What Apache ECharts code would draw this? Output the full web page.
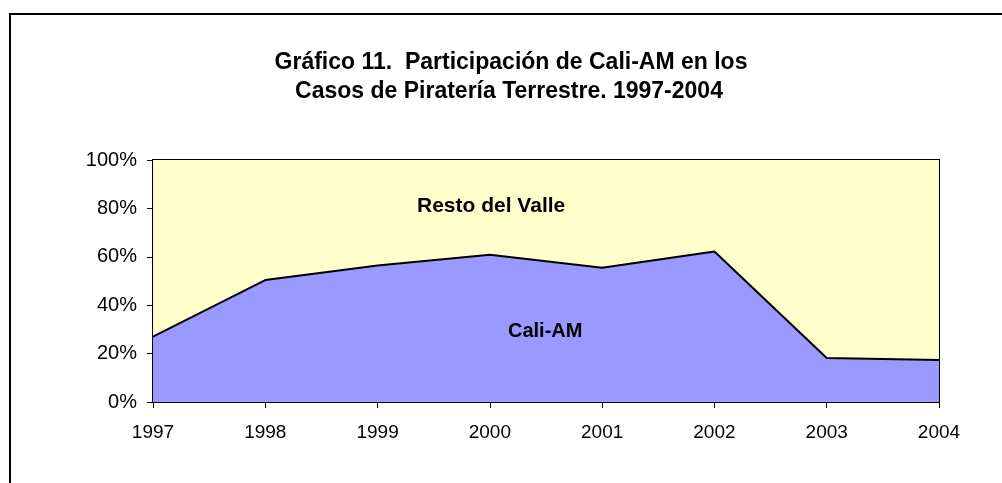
<!DOCTYPE html>
<html>
<head>
<meta charset="utf-8">
<script src="https://cdn.jsdelivr.net/npm/echarts@6/dist/echarts.min.js"></script>
<style>
  html, body { margin: 0; padding: 0; background: #fff; }
  #chart { width: 1002px; height: 483px; }
</style>
</head>
<body>
<div id="chart"></div>
<script>
// years on the x axis
const years = ['1997', '1998', '1999', '2000', '2001', '2002', '2003', '2004'];
// share of Cali-AM (%)
const caliAM = [27, 50.4, 56.4, 60.8, 55.5, 62.2, 18.2, 17.4];
// share of the rest of the valle (%)
const restoValle = [73, 49.6, 43.6, 39.2, 44.5, 37.8, 81.8, 82.6];

const titleLines = ['Gráfico 11.  Participación de Cali-AM en los', 'Casos de Piratería Terrestre. 1997-2004'];
const font = 'Arial, "Liberation Sans", sans-serif';

const chart = echarts.init(document.getElementById('chart'));

const titleStyle = {
    fontFamily: font,
    fontWeight: 'bold',
    fontSize: 23,
    color: '#000'
};

const option = {
    animation: false,
    backgroundColor: '#fff',
    title: [
        { text: titleLines[0], left: 511, top: 51, textAlign: 'center', padding: 0, textStyle: titleStyle },
        { text: titleLines[1], left: 509, top: 80, textAlign: 'center', padding: 0, textStyle: titleStyle }
    ],
    grid: {
        left: 153,
        right: 63,
        top: 160,
        bottom: 81,
        show: true,
        borderColor: '#000',
        borderWidth: 2,
        backgroundColor: 'transparent'
    },
    xAxis: {
        type: 'category',
        data: years,
        boundaryGap: false,
        axisLine: { lineStyle: { color: '#000', width: 2 } },
        axisTick: { show: true, length: 6, lineStyle: { color: '#000', width: 1 } },
        axisLabel: { color: '#000', fontFamily: font, fontSize: 19, margin: 21 },
        splitLine: { show: false }
    },
    yAxis: {
        type: 'value',
        min: 0,
        max: 100,
        interval: 20,
        axisLine: { show: true, lineStyle: { color: '#000', width: 2 } },
        axisTick: { show: true, length: 6, lineStyle: { color: '#000', width: 1 } },
        axisLabel: { color: '#000', fontFamily: font, fontSize: 20, margin: 16, formatter: '{value}%' },
        splitLine: { show: false }
    },
    graphic: [
        {
            type: 'rect',
            shape: { x: 10, y: 14, width: 1100, height: 600 },
            style: { fill: 'none', stroke: '#000', lineWidth: 2 },
            z: 100
        },
        {
            type: 'text',
            left: 417,
            top: 196,
            style: { text: 'Resto del Valle', font: 'bold 21px ' + font, fill: '#000' },
            z: 100
        },
        {
            type: 'text',
            left: 508,
            top: 321,
            style: { text: 'Cali-AM', font: 'bold 20px ' + font, fill: '#000' },
            z: 100
        }
    ],
    series: [
        {
            name: 'Cali-AM',
            type: 'line',
            stack: 'total',
            data: caliAM,
            symbol: 'none',
            lineStyle: { color: '#000', width: 2 },
            areaStyle: { color: '#9999FF', opacity: 1 },
            z: 3
        },
        {
            name: 'Resto del Valle',
            type: 'line',
            stack: 'total',
            data: restoValle,
            symbol: 'none',
            lineStyle: { width: 0 },
            areaStyle: { color: '#FFFFCC', opacity: 1 },
            z: 2
        }
    ]
};

chart.setOption(option);
</script>
</body>
</html>
